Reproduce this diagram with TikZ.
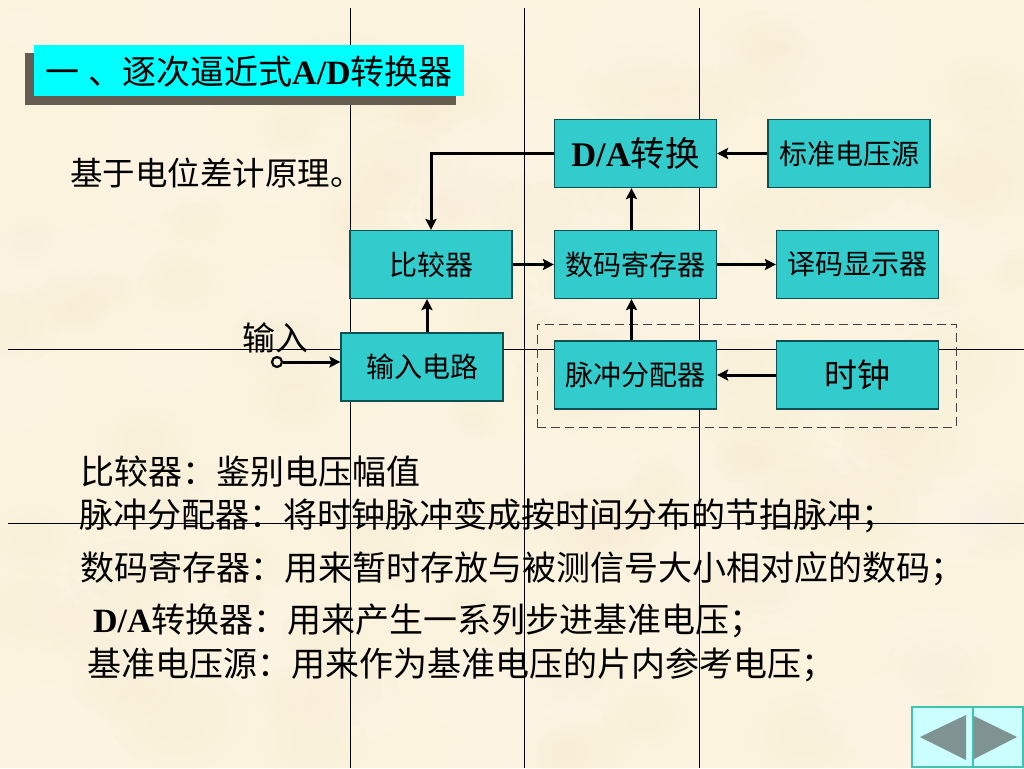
\documentclass[tikz,border=0pt]{standalone}
\usepackage{fontspec}
\setmainfont{Noto Sans CJK SC}
\newfontfamily\latbf{Liberation Serif Bold}
\usetikzlibrary{arrows.meta}
\newcommand{\fwcolon}{\char"FF1A\relax}
\newcommand{\fwsemi}{\char"FF1B\relax}
\definecolor{paper}{HTML}{FCF3DF}
\definecolor{paperlight}{HTML}{FFF9EC}
\definecolor{paperdark}{HTML}{F9EDD3}
\definecolor{boxteal}{HTML}{33CCCC}
\definecolor{boxedge}{HTML}{0E4F52}
\definecolor{shadowc}{HTML}{665C50}
\definecolor{titlecyan}{HTML}{00FFFF}
\definecolor{navfill}{HTML}{CCFFFF}
\definecolor{navedge}{HTML}{3FC4B4}
\definecolor{navtri}{HTML}{7F9393}
\tikzset{
  x=1pt,y=-1pt,
  gridline/.style={draw=black,line width=1pt},
  blockbox/.style={draw=boxedge,line width=1.2pt,fill=boxteal,minimum width=162pt,minimum height=68pt,inner sep=0pt,font=\fontsize{28}{28}\selectfont,text=black},
  bigbox/.style={blockbox,font=\fontsize{33}{33}\selectfont},
  flow/.style={draw=black,line width=3pt,-{Stealth[length=11pt,width=11pt,inset=2pt]}},
  bodytext/.style={anchor=base west,inner sep=0pt,font=\fontsize{34}{34}\selectfont,text=black},
  dashbox/.style={draw=black!75,line width=1pt,dash pattern=on 9pt off 5pt},
  navbtn/.style={draw=navedge,line width=1.2pt,fill=navfill},
  navarrow/.style={fill=navtri},
}
\begin{document}
\begin{tikzpicture}
\useasboundingbox (0,0) rectangle (1024,768);
\fill[paper] (0,0) rectangle (1024,768);
% parchment mottling
\pgfmathsetseed{4217}
\foreach \i in {1,...,170}{
  \pgfmathsetmacro{\bx}{rnd*1024}
  \pgfmathsetmacro{\by}{rnd*768}
  \pgfmathsetmacro{\br}{18+rnd*38}
  \pgfmathsetmacro{\bt}{rnd}
  \ifdim\bt pt<0.5pt \colorlet{blobc}{paperlight}\else\colorlet{blobc}{paperdark}\fi
  \foreach \f in {1,0.72,0.45}{
    \fill[blobc,opacity=0.10] (\bx,\by) ellipse ({\br*\f*1.3} and {\br*\f});
  }
}
% grid lines
\coordinate (v1t) at (350,8); \coordinate (v1b) at (350,768);
\coordinate (v2t) at (524,8); \coordinate (v2b) at (524,768);
\coordinate (v3t) at (699,8); \coordinate (v3b) at (699,768);
\coordinate (h1l) at (8,349); \coordinate (h1r) at (1024,349);
\coordinate (h2l) at (8,523); \coordinate (h2r) at (1024,523);
\draw[gridline] (v1t)--(v1b);
\draw[gridline] (v2t)--(v2b);
\draw[gridline] (v3t)--(v3b);
\draw[gridline] (h1l)--(h1r);
\draw[gridline] (h2l)--(h2r);
% title
\fill[shadowc] (25,53) rectangle (456,105);
\fill[titlecyan] (34,45) rectangle (464,96);
\node[bodytext] (title) at (45,84) {一\hspace{9pt}、逐次逼近式{\latbf A/D}转换器};
\node[bodytext,font=\fontsize{32.5}{32.5}\selectfont] (principle) at (70,185) {基于电位差计原理。};
% dashed group
\node[dashbox,minimum width=419pt,minimum height=103pt,inner sep=0pt] (group) at (746.5,375.5) {};
% blocks
\node[blockbox] (da) at (635.5,153.5) {{\fontsize{34.5}{34.5}\selectfont\latbf D/A}{\fontsize{34.5}{34.5}\selectfont 转换}};
\node[blockbox] (ref) at (849,153.5) {标准电压源};
\node[blockbox] (cmp) at (431,264.5) {比较器};
\node[blockbox] (reg) at (635.5,264.5) {数码寄存器};
\node[blockbox] (dec) at (857.5,264.5) {译码显示器};
\node[blockbox] (inp) at (422,367) {输入电路};
\node[blockbox] (dist) at (635.5,375) {脉冲分配器};
\node[bigbox] (clk) at (857.5,375) {时钟};
\node[bodytext,font=\fontsize{33}{33}\selectfont] (inlab) at (242,350) {输入};
\node[draw=black,line width=2.2pt,fill=paper,circle,minimum size=10pt,inner sep=0pt] (term) at (277,362) {};
% connectors
\draw[flow] (da.west) -| (cmp.north);
\draw[flow] (ref.west) -- (da.east);
\draw[flow] ([xshift=-4pt]reg.north) -- ([xshift=-4pt]da.south);
\draw[flow] (cmp.east) -- (reg.west);
\draw[flow] (reg.east) -- (dec.west);
\draw[flow] ([xshift=-4pt]dist.north) -- ([xshift=-4pt]reg.south);
\draw[flow] (clk.west) -- (dist.east);
\draw[flow] ([xshift=5pt]inp.north) -- ([xshift=-4pt]cmp.south);
\draw[flow] (term.east) -- (inp.west |- term.east);
% body text
\node[bodytext] (l1) at (80,484) {比较器\fwcolon 鉴别电压幅值};
\node[bodytext] (l2) at (79,527) {脉冲分配器\fwcolon 将时钟脉冲变成按时间分布的节拍脉冲\fwsemi};
\node[bodytext] (l3) at (80,580) {数码寄存器\fwcolon 用来暂时存放与被测信号大小相对应的数码\fwsemi};
\node[bodytext] (l4) at (93,632) {{\latbf D/A}转换器\fwcolon 用来产生一系列步进基准电压\fwsemi};
\node[bodytext] (l5) at (87,676) {基准电压源\fwcolon 用来作为基准电压的片内参考电压\fwsemi};
% navigation buttons
\draw[navbtn] (912,707) rectangle (973,767);
\draw[navbtn] (973,707) rectangle (1023,767);
\fill[navarrow] (920,737) -- (966,715) -- (966,760) -- cycle;
\fill[navarrow] (974,716) -- (1017,737) -- (974,759) -- cycle;
\end{tikzpicture}
\end{document}
